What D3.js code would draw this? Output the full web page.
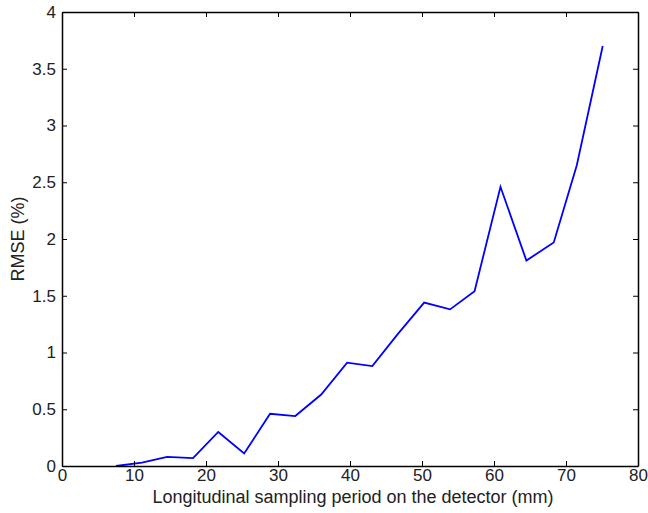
<!DOCTYPE html>
<html>
<head>
<meta charset="utf-8">
<script src="https://cdnjs.cloudflare.com/ajax/libs/d3/7.8.5/d3.min.js"></script>
<style>
  body { margin: 0; background: #fff; }
  text { font-family: "Liberation Sans", Arial, sans-serif; fill: #222; }
</style>
</head>
<body>
<div id="chart"></div>
<script>
// sampling period (mm) vs RMSE (%)
let period = [7.5, 11.1, 14.6, 18.2, 21.7, 25.3, 28.9, 32.4, 36.0, 39.6,
              43.1, 46.6, 50.3, 53.9, 57.3, 60.9, 64.5, 68.3, 71.5, 75.1]
let rmse = [0.0, 0.03, 0.08, 0.07, 0.30, 0.11, 0.46, 0.44, 0.63, 0.91,
            0.88, 1.16, 1.44, 1.38, 1.54, 2.46, 1.81, 1.97, 2.65, 3.70]
let xTicks = [0, 10, 20, 30, 40, 50, 60, 70, 80]
let yTicks = [0, 0.5, 1, 1.5, 2, 2.5, 3, 3.5, 4]

let width = 648, height = 513
let margin = {top: 12, right: 10, bottom: 47, left: 62}
let w = width - margin.left - margin.right
let h = height - margin.top - margin.bottom

let svg = d3.select("#chart").append("svg")
    .attr("width", width)
    .attr("height", height)

let g = svg.append("g")
    .attr("transform", `translate(${margin.left},${margin.top})`)

let x = d3.scaleLinear().domain([0, 80]).range([0, w])
let y = d3.scaleLinear().domain([0, 4]).range([h, 0])

// the data line
let data = period.map((p, i) => ({x: p, y: rmse[i]}))
g.append("path")
    .datum(data)
    .attr("fill", "none")
    .attr("stroke", "#0000ff")
    .attr("stroke-width", 1.8)
    .attr("d", d3.line().x(d => x(d.x)).y(d => y(d.y)))

// axes, matlab style with ticks inside
let fmt = d => d
g.append("g")
    .attr("transform", `translate(0,${h})`)
    .call(d3.axisBottom(x).tickValues(xTicks).tickSizeInner(-5).tickSizeOuter(0).tickPadding(3).tickFormat(fmt))
g.append("g")
    .call(d3.axisTop(x).tickValues(xTicks).tickSizeInner(-5).tickSizeOuter(0).tickFormat(""))
g.append("g")
    .call(d3.axisLeft(y).tickValues(yTicks).tickSizeInner(-5).tickSizeOuter(0).tickPadding(6).tickFormat(fmt))
g.append("g")
    .attr("transform", `translate(${w},0)`)
    .call(d3.axisRight(y).tickValues(yTicks).tickSizeInner(-5).tickSizeOuter(0).tickFormat(""))

g.selectAll(".domain").attr("stroke", "#000").attr("stroke-width", 1.5)
g.selectAll(".tick line").attr("stroke", "#000").attr("stroke-width", 1)
g.selectAll(".tick text").attr("font-size", 17).attr("fill", "#222")
    .style("font-family", '"Liberation Sans", Arial, sans-serif')

// labels
svg.append("text")
    .attr("x", margin.left + w / 2 + 3)
    .attr("y", 503)
    .attr("text-anchor", "middle")
    .attr("font-size", 18)
    .text("Longitudinal sampling period on the detector (mm)")

svg.append("text")
    .attr("transform", `translate(24,${margin.top + h / 2}) rotate(-90)`)
    .attr("text-anchor", "middle")
    .attr("font-size", 18)
    .text("RMSE (%)")
</script>
</body>
</html>
